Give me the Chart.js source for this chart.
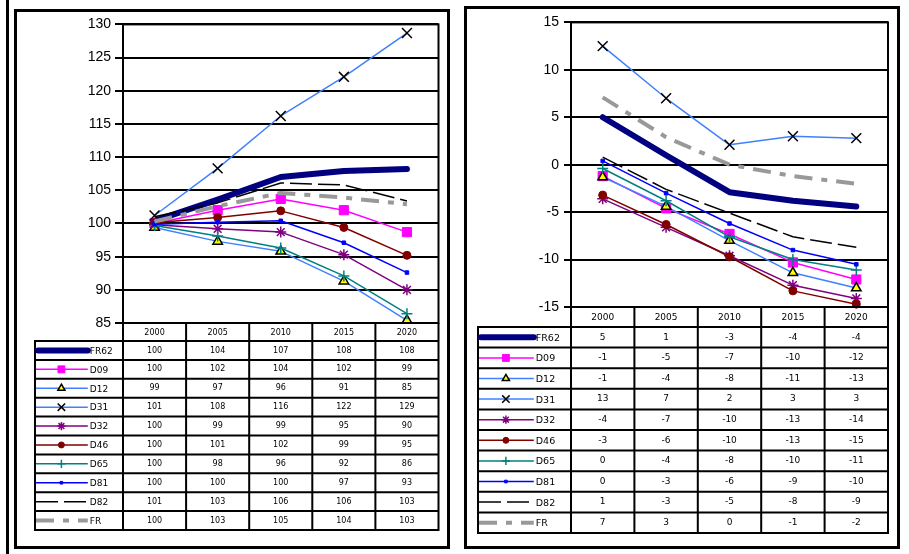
<!DOCTYPE html>
<html>
<head>
<meta charset="utf-8">
<title>FR62 - indices et ecarts</title>
<script src="https://cdn.jsdelivr.net/npm/chart.js@4.4.1/dist/chart.umd.min.js"></script>
<style>
  body { margin: 0; width: 909px; height: 554px; background: #fff; position: relative; overflow: hidden; }
  .box { position: absolute; border: 3px solid #000; box-sizing: border-box; }
  canvas { position: absolute; }
</style>
</head>
<body>
<div class="box" style="left:6px;top:-10px;width:3px;height:580px;border-width:0 0 0 3px"></div>
<div class="box" style="left:14px;top:9px;width:436px;height:540px"></div>
<div class="box" style="left:464px;top:6px;width:436px;height:543px"></div>
<canvas id="chart_index" width="430" height="534" style="left:17px;top:12px;width:430px;height:534px"></canvas>
<canvas id="chart_gap" width="430" height="537" style="left:467px;top:9px;width:430px;height:537px"></canvas>
<script>
// categories
const years = ["2000", "2005", "2010", "2015", "2020"];
const seriesNames = ["FR62", "D09", "D12", "D31", "D32", "D46", "D65", "D81", "D82", "FR"];

// left chart : index
const fr62Index = [100.4, 103.6, 107.0, 107.9, 108.2];
const d09Index  = [100.0, 102.0, 103.7, 102.0, 98.7];
const d12Index  = [99.4, 97.3, 95.8, 91.3, 85.4];
const d31Index  = [101.2, 108.3, 116.2, 122.1, 128.7];
const d32Index  = [99.8, 99.2, 98.7, 95.3, 90.0];
const d46Index  = [100.1, 100.9, 101.9, 99.4, 95.2];
const d65Index  = [99.7, 98.1, 96.3, 92.1, 86.4];
const d81Index  = [99.9, 100.2, 100.4, 97.1, 92.6];
const d82Index  = [101.0, 103.1, 106.1, 105.8, 103.4];
const frIndex   = [100.3, 102.6, 104.6, 103.9, 102.9];

// right chart : gaps
const fr62Gap = [5.0, 1.0, -2.9, -3.8, -4.4];
const d09Gap  = [-1.2, -4.6, -7.3, -10.3, -12.1];
const d12Gap  = [-1.3, -4.4, -8.0, -11.4, -13.0];
const d31Gap  = [12.5, 7.0, 2.1, 3.0, 2.8];
const d32Gap  = [-3.6, -6.6, -9.6, -12.7, -14.1];
const d46Gap  = [-3.2, -6.3, -9.7, -13.3, -14.7];
const d65Gap  = [-0.4, -3.8, -7.6, -10.0, -11.1];
const d81Gap  = [0.4, -3.0, -6.2, -9.0, -10.5];
const d82Gap  = [0.8, -2.6, -5.1, -7.6, -8.7];
const frGap   = [7.1, 2.9, 0.0, -1.2, -2.0];

// y tick labels
const indexTicks = [85, 90, 95, 100, 105, 110, 115, 120, 125, 130];
const gapTicks = [-15, -10, -5, 0, 5, 10, 15];

// line / marker look per series (same order as seriesNames)
const seriesStyles = [
  { color: "#000080", width: 6 },
  { color: "#ff00ff", width: 1.5, point: "rect", radius: 6.5, fill: "#ff00ff", edge: "#ff00ff", edgeWidth: 1 },
  { color: "#4080ff", width: 1.5, point: "triangle", radius: 5.5, fill: "#ffff00", edge: "#000", edgeWidth: 1.5 },
  { color: "#4080ff", width: 1.5, point: "crossRot", radius: 7, fill: "#000", edge: "#000", edgeWidth: 1.5 },
  { color: "#800080", width: 1.5, point: "star", radius: 5.5, fill: "#800080", edge: "#800080", edgeWidth: 1.5 },
  { color: "#800000", width: 1.5, point: "circle", radius: 4, fill: "#800000", edge: "#800000", edgeWidth: 1 },
  { color: "#008080", width: 1.5, point: "cross", radius: 5.5, fill: "#008080", edge: "#008080", edgeWidth: 1.5 },
  { color: "#0000ff", width: 1.5, point: "rect", radius: 2.5, fill: "#0000ff", edge: "#0000ff", edgeWidth: 1 },
  { color: "#000000", width: 1.5, dash: [22, 6] },
  { color: "#999999", width: 4, dash: [18, 9, 6, 9] },
];

function buildDatasets(valueLists) {
  return valueLists.map((values, i) => {
    const st = seriesStyles[i];
    return {
      label: seriesNames[i],
      data: values,
      borderColor: st.color,
      borderWidth: st.width,
      borderDash: st.dash || [],
      borderCapStyle: st.width > 4 ? "round" : "butt",
      borderJoinStyle: "round",
      pointStyle: st.point || "circle",
      pointRadius: st.point ? st.radius : 0,
      pointHoverRadius: st.point ? st.radius : 0,
      pointBackgroundColor: st.fill || st.color,
      pointBorderColor: st.edge || st.color,
      pointBorderWidth: st.edgeWidth || 1,
      tension: 0,
      clip: 8,
      order: valueLists.length - i,
    };
  });
}

// draws the frame of the plot and the data table under it
const dataTable = {
  id: "dataTable",
  afterDraw(chart, args, opts) {
    const { ctx, chartArea: area, scales: { x } } = chart;
    const colW = x.getPixelForValue(1) - x.getPixelForValue(0);
    const edges = years.map((_, i) => x.getPixelForValue(i) - colW / 2);
    edges.push(area.right);
    const rowsTop = area.bottom + opts.headH;
    const rowsBottom = rowsTop + opts.rowH * seriesNames.length;
    const keyLen = (area.left - opts.legLeft) * 0.6;

    ctx.save();
    ctx.strokeStyle = "#000";
    ctx.lineWidth = 2;
    ctx.strokeRect(area.left, area.top, area.width, area.height);

    ctx.beginPath();
    edges.forEach(ex => { ctx.moveTo(ex, area.bottom); ctx.lineTo(ex, rowsBottom); });
    ctx.moveTo(opts.legLeft, rowsTop);
    ctx.lineTo(opts.legLeft, rowsBottom);
    for (let r = 0; r <= seriesNames.length; r++) {
      const ry = rowsTop + r * opts.rowH;
      ctx.moveTo(opts.legLeft - 1, ry);
      ctx.lineTo(area.right + 1, ry);
    }
    ctx.stroke();

    ctx.fillStyle = "#000";
    ctx.textAlign = "center";
    ctx.textBaseline = "middle";
    ctx.font = opts.numSize + "px 'DejaVu Sans'";
    years.forEach((yr, i) => ctx.fillText(yr, x.getPixelForValue(i), area.bottom + opts.headH / 2 + 1));

    chart.data.datasets.forEach((ds, r) => {
      const cy = rowsTop + (r + 0.5) * opts.rowH;
      ctx.fillStyle = "#000";
      ctx.textAlign = "center";
      ctx.font = opts.numSize + "px 'DejaVu Sans'";
      ds.data.forEach((v, i) => ctx.fillText(String(Math.round(v)), x.getPixelForValue(i), cy));

      // legend key
      ctx.save();
      ctx.strokeStyle = ds.borderColor;
      ctx.lineWidth = ds.borderWidth;
      ctx.lineCap = ds.borderCapStyle;
      ctx.setLineDash(ds.borderDash);
      ctx.beginPath();
      ctx.moveTo(opts.legLeft + 1 + (ds.borderWidth > 4 ? 2 : 0), cy);
      ctx.lineTo(opts.legLeft + keyLen, cy);
      ctx.stroke();
      ctx.setLineDash([]);
      if (ds.pointRadius > 0) {
        ctx.fillStyle = ds.pointBackgroundColor;
        ctx.strokeStyle = ds.pointBorderColor;
        ctx.lineWidth = ds.pointBorderWidth;
        Chart.helpers.drawPoint(ctx, {
          pointStyle: ds.pointStyle,
          radius: ds.pointRadius * 0.75,
          borderWidth: ds.pointBorderWidth,
          rotation: 0,
        }, opts.legLeft + keyLen / 2, cy);
      }
      ctx.restore();

      ctx.fillStyle = "#000";
      ctx.textAlign = "left";
      ctx.font = opts.labelSize + "px 'DejaVu Sans'";
      ctx.fillText(ds.label, opts.legLeft + keyLen + 2, cy + 1);
    });
    ctx.restore();
  }
};

function makeChart(canvasId, valueLists, ticks, layout) {
  return new Chart(document.getElementById(canvasId), {
    type: "line",
    data: { labels: years, datasets: buildDatasets(valueLists) },
    options: {
      responsive: false,
      animation: false,
      devicePixelRatio: 1,
      layout: { padding: { top: layout.top, right: layout.right, left: 0, bottom: 0 } },
      scales: {
        x: {
          offset: true,
          grid: { display: false },
          border: { display: false },
          ticks: { display: false },
          afterFit(scale) { scale.height = layout.bottom; },
        },
        y: {
          min: ticks[0],
          max: ticks[ticks.length - 1],
          ticks: {
            stepSize: ticks[1] - ticks[0],
            color: "#000",
            padding: layout.tickPad,
            font: { family: "'Liberation Sans', Arial", size: 14 },
          },
          grid: { color: "#000", lineWidth: 2, tickLength: layout.tickLen },
          border: { color: "#000", width: 2 },
          afterFit(scale) { scale.width = layout.axisW; },
        },
      },
      plugins: {
        legend: { display: false },
        tooltip: { enabled: false },
        dataTable: layout.table,
      },
    },
    plugins: [dataTable],
  });
}

makeChart("chart_index",
  [fr62Index, d09Index, d12Index, d31Index, d32Index, d46Index, d65Index, d81Index, d82Index, frIndex],
  indexTicks,
  { top: 9, right: 6, bottom: 223, axisW: 106, tickLen: 8, tickPad: 4,
    table: { headH: 18, rowH: 18.9, legLeft: 18, numSize: 8, labelSize: 9 } });

makeChart("chart_gap",
  [fr62Gap, d09Gap, d12Gap, d31Gap, d32Gap, d46Gap, d65Gap, d81Gap, d82Gap, frGap],
  gapTicks,
  { top: 10, right: 9, bottom: 239, axisW: 104, tickLen: 7, tickPad: 5,
    table: { headH: 20, rowH: 20.6, legLeft: 11, numSize: 9, labelSize: 9.5 } });
</script>
</body>
</html>
